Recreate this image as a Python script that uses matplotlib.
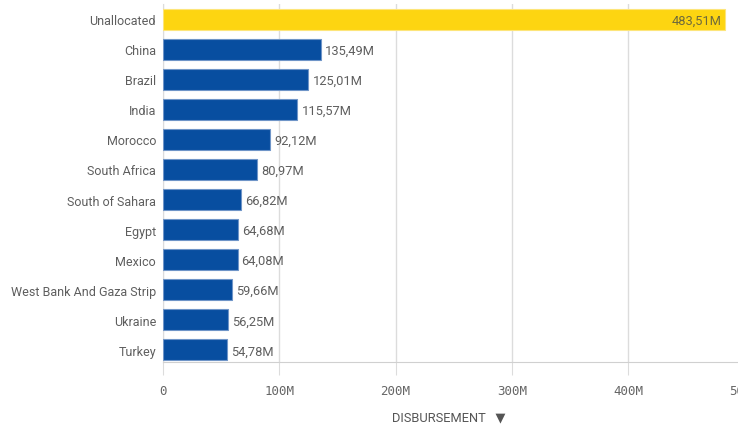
import matplotlib.pyplot as plt
from matplotlib.ticker import FuncFormatter

countries = ["Unallocated", "China", "Brazil", "India", "Morocco", "South Africa",
             "South of Sahara", "Egypt", "Mexico", "West Bank And Gaza Strip",
             "Ukraine", "Turkey"]
disbursement = [483.51, 135.49, 125.01, 115.57, 92.12, 80.97,
                66.82, 64.68, 64.08, 59.66, 56.25, 54.78]
x_ticks = [0, 100, 200, 300, 400, 500]

BLUE = "#084ea0"
YELLOW = "#fdd511"
GREY = "#666666"
LABEL_FONT = ["Roboto", "DejaVu Sans"]

fig = plt.figure(figsize=(7.38, 4.27), dpi=100)
ax = fig.add_axes([163 / 738, 1 - 363 / 427, (744.5 - 163) / 738, (363 - 5) / 427])

colors = [YELLOW] + [BLUE] * (len(countries) - 1)
edges = ["#fde57a"] + ["#6f95c8"] * (len(countries) - 1)
pos = list(range(len(countries)))
ax.barh(pos, disbursement, height=0.7, color=colors, edgecolor=edges,
        linewidth=0.8, zorder=3)

for i, v in enumerate(disbursement):
    txt = f"{v:.2f}".replace(".", ",") + "M"
    if i == 0:
        ax.text(v - 3, i + 0.03, txt, ha="right", va="center", fontsize=9.3,
                color="#6e6a3c", family=LABEL_FONT, zorder=4)
    else:
        ax.text(v + 3.5, i + 0.03, txt, ha="left", va="center", fontsize=9.3,
                color="#5e5e5e", family=LABEL_FONT, zorder=4)

ax.set_xlim(0, 500)
ax.set_ylim(len(countries) - 0.6, -0.5)
ax.set_yticks(pos)
ax.set_yticklabels(countries, fontsize=9, color="#5e5e5e", family=LABEL_FONT)
ax.set_xticks(x_ticks)
ax.xaxis.set_major_formatter(FuncFormatter(lambda v, _: "0" if v == 0 else f"{int(v)}M"))
for lbl in ax.get_xticklabels():
    lbl.set_fontfamily("DejaVu Sans Mono")
    lbl.set_fontsize(9)
    lbl.set_color(GREY)

ax.grid(axis="x", color="#dcdcdc", linewidth=1, zorder=0)
for side in ("top", "right"):
    ax.spines[side].set_visible(False)
ax.spines["left"].set_color("#dcdcdc")
ax.spines["bottom"].set_color("#d0d0d0")
ax.tick_params(axis="y", length=0, pad=5)
ax.tick_params(axis="x", length=9, color="#dcdcdc", pad=7)

fig.text(449 / 738, 1 - 418 / 427, "DISBURSEMENT   \u25bc", ha="center", va="center",
         fontsize=9.3, color="#555555", family=LABEL_FONT)

fig.savefig("out.png", dpi=100)
